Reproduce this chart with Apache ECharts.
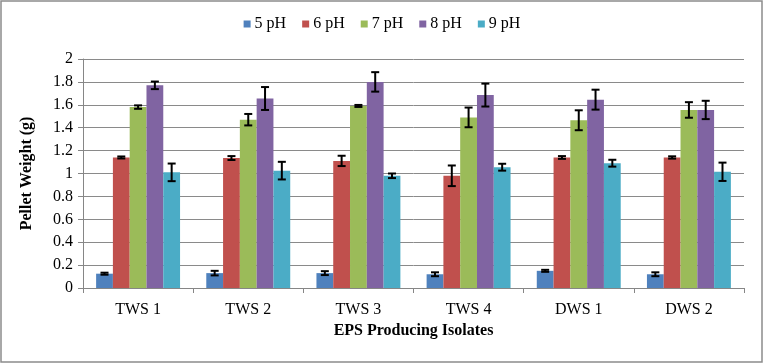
<!DOCTYPE html>
<html>
<head>
<meta charset="utf-8">
<script src="https://cdn.jsdelivr.net/npm/echarts@6/dist/echarts.min.js"></script>
<style>
html,body{margin:0;padding:0;background:#fff;}
#chart{width:764px;height:364px;}
</style>
</head>
<body>
<div id="chart"></div>
<script>
var categories = ['TWS 1', 'TWS 2', 'TWS 3', 'TWS 4', 'DWS 1', 'DWS 2'];
var seriesNames = ['5 pH', '6 pH', '7 pH', '8 pH', '9 pH'];
var ph5 = [0.125, 0.13, 0.13, 0.12, 0.15, 0.12];
var ph6 = [1.14, 1.135, 1.11, 0.98, 1.14, 1.14];
var ph7 = [1.58, 1.47, 1.59, 1.49, 1.465, 1.555];
var ph8 = [1.77, 1.655, 1.80, 1.685, 1.645, 1.555];
var ph9 = [1.01, 1.025, 0.98, 1.055, 1.09, 1.015];
var ph5Err = [0.005, 0.02, 0.017, 0.017, 0.005, 0.017];
var ph6Err = [0.005, 0.017, 0.045, 0.09, 0.012, 0.01];
var ph7Err = [0.015, 0.05, 0.005, 0.086, 0.087, 0.068];
var ph8Err = [0.033, 0.1, 0.085, 0.1, 0.087, 0.08];
var ph9Err = [0.077, 0.077, 0.02, 0.03, 0.03, 0.08];
var yTicks = [0, 0.2, 0.4, 0.6, 0.8, 1, 1.2, 1.4, 1.6, 1.8, 2];

var values = [ph5, ph6, ph7, ph8, ph9];
var errors = [ph5Err, ph6Err, ph7Err, ph8Err, ph9Err];
var colors = ['#4F81BD', '#C0504D', '#9BBB59', '#8064A2', '#4BACC6'];
var FONT = 'Liberation Serif';
var CAT_GAP = 0.238;

var chart = echarts.init(document.getElementById('chart'), null, {renderer: 'canvas'});

var series = [];
values.forEach(function (vals, i) {
  series.push({
    name: seriesNames[i],
    type: 'bar',
    data: vals,
    barGap: '0%',
    barCategoryGap: (CAT_GAP * 100) + '%',
    itemStyle: {color: colors[i]},
    z: 2
  });
});
values.forEach(function (vals, i) {
  var errData = vals.map(function (v, k) { return [k, v, errors[i][k]]; });
  series.push({
    name: seriesNames[i] + ' err',
    type: 'custom',
    data: errData,
    z: 5,
    silent: true,
    renderItem: function (params, api) {
      var k = api.value(0), v = api.value(1), e = api.value(2);
      var band = api.size([1, 0])[0];
      var barW = band * (1 - CAT_GAP) / 5;
      var center = api.coord([k, v]);
      var x = center[0] - 2.5 * barW + (i + 0.5) * barW;
      var top = api.coord([k, v + e])[1];
      var bot = api.coord([k, v - e])[1];
      var half = 4;
      var st = {stroke: '#000', lineWidth: 2};
      if (bot - top < 2) { top = center[1] - 1; bot = center[1] + 1; }
      return {
        type: 'group',
        children: [
          {type: 'line', shape: {x1: x, y1: top, x2: x, y2: bot}, style: st},
          {type: 'line', shape: {x1: x - half, y1: top, x2: x + half, y2: top}, style: st},
          {type: 'line', shape: {x1: x - half, y1: bot, x2: x + half, y2: bot}, style: st}
        ]
      };
    }
  });
});

chart.setOption({
  animation: false,
  backgroundColor: '#fff',
  textStyle: {fontFamily: FONT},
  graphic: [{
    type: 'rect',
    shape: {x: 1, y: 1, width: 761, height: 361},
    style: {fill: 'none', stroke: '#8c8c8c', lineWidth: 1.5},
    silent: true, z: -1
  }],
  legend: {
    data: seriesNames,
    left: 'center',
    top: 11,
    itemWidth: 7,
    itemHeight: 7,
    itemGap: 16,
    icon: 'rect',
    textStyle: {fontFamily: FONT, fontSize: 16, color: '#000', padding: [0, 0, 0, -1]}
  },
  grid: {left: 83, right: 20, top: 59, bottom: 76, containLabel: false},
  xAxis: {
    type: 'category',
    data: categories,
    name: 'EPS Producing Isolates',
    nameLocation: 'middle',
    nameGap: 30,
    nameTextStyle: {fontFamily: FONT, fontSize: 16, fontWeight: 'bold', color: '#000'},
    axisLine: {lineStyle: {color: '#868686', width: 1}},
    axisTick: {show: true, alignWithLabel: false, length: 5, lineStyle: {color: '#868686'}},
    axisLabel: {fontFamily: FONT, fontSize: 16, color: '#000', margin: 14}
  },
  yAxis: {
    type: 'value',
    min: yTicks[0],
    max: yTicks[yTicks.length - 1],
    interval: 0.2,
    name: 'Pellet Weight (g)',
    nameLocation: 'middle',
    nameGap: 48,
    nameRotate: 90,
    nameTextStyle: {fontFamily: FONT, fontSize: 16, fontWeight: 'bold', color: '#000'},
    axisLine: {show: true, lineStyle: {color: '#868686', width: 1}},
    axisTick: {show: true, length: 5, lineStyle: {color: '#868686'}},
    axisLabel: {fontFamily: FONT, fontSize: 16, color: '#000', margin: 10,
      formatter: function (v) { return String(Math.round(v * 10) / 10); }},
    splitLine: {show: true, lineStyle: {color: '#8a8a8a', width: 1}}
  },
  series: series
});
</script>
</body>
</html>
